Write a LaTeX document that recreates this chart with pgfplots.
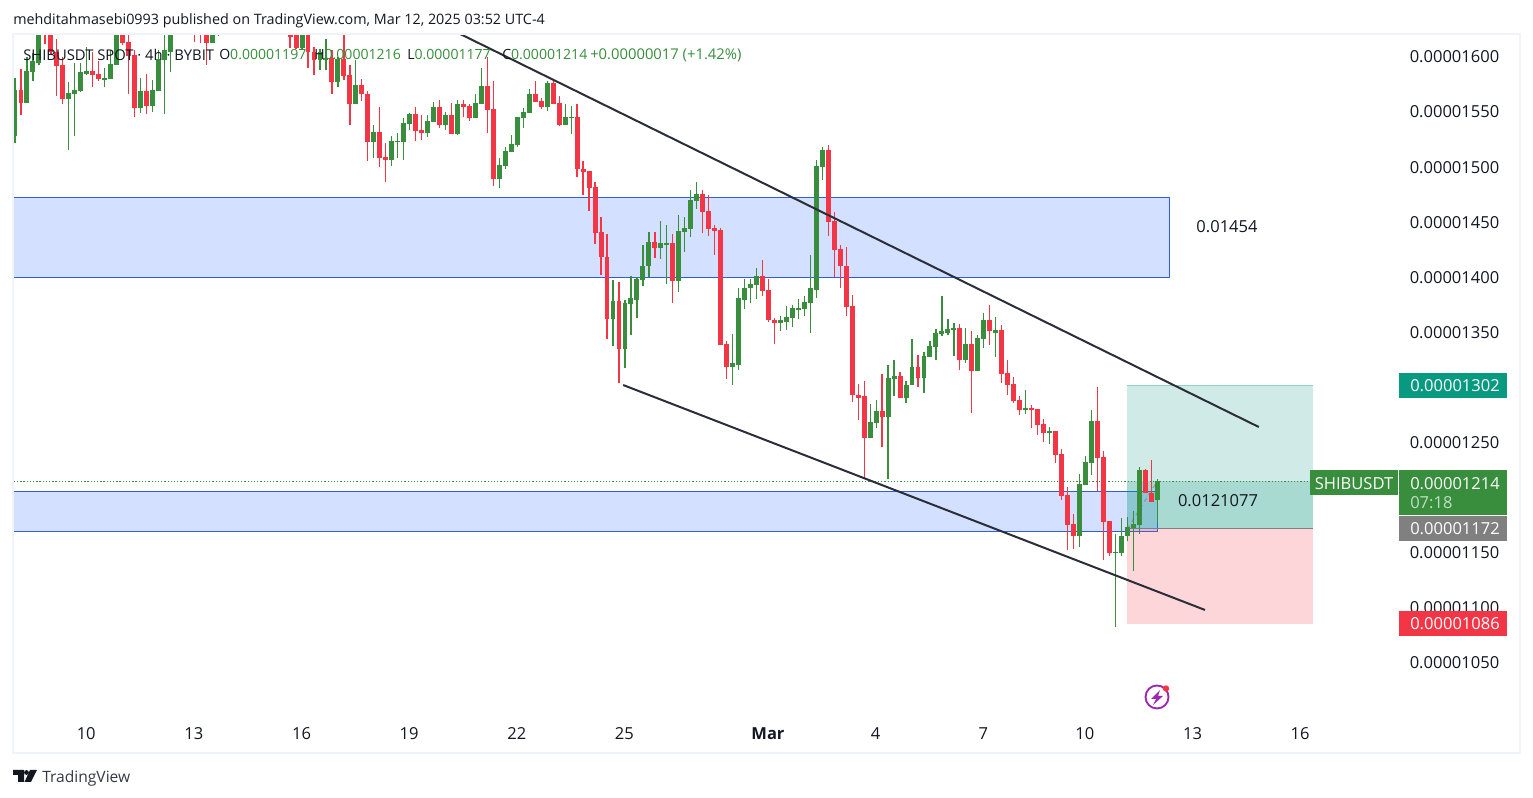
\documentclass[border=0pt]{standalone}
\usepackage{fontspec}
\usepackage{pgfplots}
\usepackage{pgfplotstable}
\pgfplotsset{compat=1.18}
\setmainfont{Open Sans}
\definecolor{upc}{HTML}{388E3C}
\definecolor{dnc}{HTML}{F23645}
\definecolor{zonef}{HTML}{D4E0FF}
\definecolor{zonel}{HTML}{2E5FE0}
\definecolor{teal}{HTML}{089981}
\definecolor{ink}{HTML}{131722}
\definecolor{trend}{HTML}{2A2E39}
\definecolor{frame}{HTML}{F0F3FA}
\definecolor{purp}{HTML}{9C27B0}
% i open high low close, prices in units of 0.00000001
\pgfplotstableread{
i o h l c
0 1527 1580 1521 1569
2 1557 1599 1557 1586
3 1585 1603 1577 1595
4 1594 1633 1592 1628
9 1561 1576 1515 1566
10 1565 1594 1527 1569
11 1568 1594 1567 1585
12 1584 1608 1583 1586
15 1579 1589 1572 1580
16 1579 1605 1579 1593
17 1592 1633 1592 1628
21 1553 1580 1548 1568
23 1555 1578 1549 1569
24 1568 1605 1568 1597
25 1596 1621 1547 1605
26 1604 1628 1585 1624
33 1612 1628 1612 1624
34 1624 1633 1618 1628
48 1607 1633 1605 1628
51 1596 1606 1587 1604
52 1596 1615 1587 1598
54 1576 1599 1572 1597
57 1556 1596 1556 1574
60 1522 1537 1507 1531
63 1506 1527 1500 1523
64 1522 1530 1507 1523
65 1522 1544 1506 1539
66 1538 1548 1533 1547
69 1530 1546 1526 1541
70 1540 1558 1540 1554
72 1537 1549 1533 1546
74 1529 1560 1528 1556
77 1544 1565 1544 1557
78 1556 1589 1556 1573
81 1488 1507 1480 1501
82 1500 1517 1497 1514
83 1513 1528 1513 1520
84 1519 1545 1517 1545
85 1544 1553 1535 1549
86 1548 1570 1548 1565
89 1554 1577 1550 1575
92 1537 1556 1537 1545
93 1544 1555 1529 1545
100 1361 1397 1337 1378
102 1334 1379 1317 1376
103 1375 1400 1347 1380
104 1379 1399 1362 1398
105 1397 1428 1391 1409
106 1409 1440 1399 1431
108 1426 1450 1416 1430
109 1429 1447 1393 1430
111 1396 1456 1386 1441
112 1440 1454 1422 1444
113 1443 1478 1436 1469
114 1468 1486 1461 1475
120 1318 1348 1301 1321
121 1320 1389 1315 1380
122 1379 1398 1370 1389
123 1389 1398 1376 1393
124 1392 1408 1379 1400
128 1358 1364 1350 1360
129 1359 1373 1351 1363
130 1362 1374 1354 1371
131 1370 1379 1361 1371
132 1370 1382 1364 1377
133 1376 1419 1349 1389
134 1388 1506 1380 1500
135 1499 1517 1487 1515
143 1253 1284 1253 1268
144 1267 1288 1262 1278
146 1272 1320 1216 1308
147 1307 1324 1291 1310
149 1290 1305 1285 1301
150 1301 1343 1301 1318
152 1308 1331 1294 1328
153 1327 1341 1327 1337
154 1336 1352 1324 1349
155 1348 1382 1346 1350
156 1349 1361 1347 1352
157 1351 1358 1328 1353
159 1324 1353 1321 1339
161 1314 1347 1314 1344
162 1343 1367 1335 1360
164 1349 1363 1327 1351
169 1279 1297 1275 1281
173 1258 1263 1248 1260
178 1164 1221 1154 1212
179 1211 1237 1211 1232
180 1231 1279 1220 1269
184 1149 1166 1082 1150
185 1149 1181 1146 1164
186 1164 1182 1160 1173
187 1172 1187 1133 1175
188 1174 1227 1166 1224
191 1197 1216 1177 1214
}\upT
\pgfplotstableread{
i o h l c
1 1569 1588 1546 1557
5 1637 1642 1611 1624
6 1624 1628 1601 1604
7 1604 1615 1564 1591
8 1592 1599 1556 1561
13 1586 1604 1572 1583
14 1584 1595 1577 1579
18 1624 1628 1610 1612
19 1613 1621 1565 1600
20 1601 1605 1545 1553
22 1568 1584 1547 1555
30 1633 1642 1613 1628
31 1625 1633 1612 1619
32 1624 1633 1592 1612
46 1628 1633 1607 1617
47 1625 1631 1606 1607
49 1627 1633 1589 1604
50 1604 1608 1583 1596
53 1598 1605 1565 1576
55 1597 1620 1578 1582
56 1583 1592 1537 1556
58 1574 1579 1559 1565
59 1565 1568 1505 1522
61 1531 1554 1499 1507
62 1508 1521 1486 1506
67 1547 1554 1523 1532
68 1533 1546 1524 1530
71 1554 1560 1535 1537
73 1546 1557 1529 1529
75 1556 1560 1545 1554
76 1555 1556 1541 1544
79 1573 1599 1530 1551
80 1552 1577 1482 1488
87 1565 1577 1558 1558
88 1559 1562 1552 1554
90 1575 1577 1556 1556
91 1557 1564 1536 1537
94 1545 1556 1490 1497
95 1497 1505 1474 1495
96 1496 1496 1459 1480
97 1481 1486 1429 1439
98 1440 1454 1401 1418
99 1418 1438 1343 1361
101 1378 1395 1303 1334
107 1431 1440 1417 1426
110 1430 1438 1376 1396
115 1475 1478 1439 1458
116 1459 1474 1437 1443
117 1444 1447 1419 1441
118 1442 1444 1338 1338
119 1339 1341 1307 1318
125 1400 1415 1382 1387
126 1388 1398 1359 1360
127 1360 1362 1339 1358
136 1515 1519 1437 1449
137 1450 1458 1399 1424
138 1425 1428 1389 1409
139 1409 1427 1364 1372
140 1373 1383 1286 1292
141 1292 1302 1270 1290
142 1291 1305 1216 1253
145 1278 1311 1245 1272
148 1310 1313 1290 1290
151 1318 1329 1300 1308
158 1353 1357 1315 1324
160 1339 1350 1276 1314
163 1360 1374 1338 1350
165 1351 1356 1303 1311
166 1312 1324 1292 1301
167 1302 1309 1285 1287
168 1288 1291 1274 1279
170 1281 1283 1262 1279
171 1280 1280 1256 1265
172 1266 1271 1250 1258
174 1260 1260 1231 1238
175 1239 1243 1197 1201
176 1202 1209 1152 1174
177 1175 1184 1153 1164
181 1269 1300 1205 1235
182 1236 1242 1143 1177
183 1178 1178 1146 1149
189 1224 1225 1203 1203
190 1203 1233 1195 1195
}\downT
\begin{document}
\begin{tikzpicture}
\useasboundingbox (0,0) rectangle (1149.75pt,598.5pt);
\fill[white] (0,0) rectangle (1149.75pt,598.5pt);
\begin{axis}[
  at={(9.75pt,60pt)}, anchor=south west,
  scale only axis, width=1038.75pt, height=513pt,
  xmin=-0.334, xmax=231.27, ymin=999.3, ymax=1619.9,
  axis line style={draw=none},
  major tick length=0pt,
  xtick={12,30,48,66,84,102,126,144,162,179,197,215},
  xticklabels={10,13,16,19,22,25,\textbf{Mar},4,7,10,13,16},
  ytick={1050,1100,1150,1250,1350,1400,1450,1500,1550,1600},
  yticklabels={0.00001050,0.00001100,0.00001150,0.00001250,0.00001350,0.00001400,0.00001450,0.00001500,0.00001550,0.00001600},
  ytick pos=right,
  yticklabel pos=right,
  tick label style={font=\fontsize{12.4pt}{14pt}\selectfont, text=ink},
  yticklabel style={anchor=west, inner sep=0pt, xshift=8.6pt, yshift=-0.75pt},
  xticklabel style={anchor=center, inner sep=0pt, yshift=-11.75pt, xshift=-0.4pt},
]
% supply and demand zones
\addplot[fill=zonef, draw=zonel, line width=0.7pt, forget plot] coordinates {(-5,1399)(193,1399)(193,1472)(-5,1472)} -- cycle;
\addplot[fill=zonef, draw=zonel, line width=0.7pt, forget plot] coordinates {(-5,1168.3)(191,1168.3)(191,1204.5)(-5,1204.5)} -- cycle;
% long position
\addplot[fill=teal, fill opacity=0.19, draw=none, forget plot] coordinates {(186,1171)(217.1,1171)(217.1,1301)(186,1301)} -- cycle;
\addplot[fill=teal, fill opacity=0.2, draw=none, forget plot] coordinates {(186,1171)(217.1,1171)(217.1,1214)(186,1214)} -- cycle;
\addplot[fill=dnc, fill opacity=0.2, draw=none, forget plot] coordinates {(186,1084.8)(217.1,1084.8)(217.1,1171)(186,1171)} -- cycle;
\addplot[draw=teal, draw opacity=0.3, line width=0.7pt, forget plot] coordinates {(186,1301)(217.1,1301)};
\addplot[draw=gray, line width=0.7pt, forget plot] coordinates {(186,1171)(217.1,1171)};
\addplot[draw=gray, draw opacity=0.6, dashed, line width=0.9pt, forget plot] coordinates {(186,1171)(191,1214)};
% last price line
\addplot[draw=upc, dash pattern=on 1pt off 1.4pt, line width=0.8pt, forget plot] coordinates {(-5,1213.5)(216.6,1213.5)};
% wicks
\addplot[draw=none, mark=none, forget plot, error bars/.cd, y dir=both, y explicit, error mark=none, error bar style={draw=upc, line width=0.95pt}]
  table[x=i, y expr={(\thisrow{h}+\thisrow{l})/2}, y error plus expr={(\thisrow{h}-\thisrow{l})/2}, y error minus expr={(\thisrow{h}-\thisrow{l})/2}] {\upT};
\addplot[draw=none, mark=none, forget plot, error bars/.cd, y dir=both, y explicit, error mark=none, error bar style={draw=dnc, line width=0.95pt}]
  table[x=i, y expr={(\thisrow{h}+\thisrow{l})/2}, y error plus expr={(\thisrow{h}-\thisrow{l})/2}, y error minus expr={(\thisrow{h}-\thisrow{l})/2}] {\downT};
% bodies
\addplot[draw=none, mark=none, forget plot, error bars/.cd, y dir=both, y explicit, error mark=none, error bar style={draw=upc, line width=3.7pt}]
  table[x=i, y expr={(\thisrow{o}+\thisrow{c})/2}, y error plus expr={(\thisrow{c}-\thisrow{o})/2}, y error minus expr={(\thisrow{c}-\thisrow{o})/2}] {\upT};
\addplot[draw=none, mark=none, forget plot, error bars/.cd, y dir=both, y explicit, error mark=none, error bar style={draw=dnc, line width=3.7pt}]
  table[x=i, y expr={(\thisrow{o}+\thisrow{c})/2}, y error plus expr={(\thisrow{o}-\thisrow{c})/2}, y error minus expr={(\thisrow{o}-\thisrow{c})/2}] {\downT};
% trend lines
\addplot[draw=trend, line width=1.5pt, forget plot] coordinates {(74.1,1620.8)(208,1263.3)};
\addplot[draw=trend, line width=1.5pt, forget plot] coordinates {(101.7,1301.4)(199,1097.3)};
\end{axis}
\begin{scope}[shift={(0pt,598.5pt)}, x=0.75pt, y=-0.75pt]
\def\bigf{\fontsize{12.4pt}{14pt}\selectfont}
\def\midf{\fontsize{11.1pt}{13pt}\selectfont}
\def\ohlcf{\fontsize{10.55pt}{13pt}\selectfont}
% frame
\draw[frame, line width=1.1pt] (13,34) rectangle (1520,753);
% header
\node[anchor=west, inner sep=0pt, text=ink] at (13,20.5) {\fontsize{10.75pt}{12pt}\selectfont mehditahmasebi0993 published on TradingView.com, Mar 12, 2025 03:52 UTC-4};
\node[anchor=west, inner sep=0pt, text=ink] at (23,55) {\midf SHIBUSDT SPOT · 4h · BYBIT};
\foreach \xx/\ll/\vv in {219/O/0.00001197,314/H/0.00001216,407/L/0.00001177,502/C/0.00001214}{
  \node[anchor=west, inner sep=0pt] at (\xx,55) {\ohlcf\textcolor{ink}{\ll}\textcolor{upc}{\vv}};
}
\node[anchor=west, inner sep=0pt, text=upc] at (590,55) {\midf +0.00000017 (+1.42\%)};
% annotations
\node[text=ink, inner sep=0pt] at (1227,227) {\bigf 0.01454};
\node[text=ink, inner sep=0pt] at (1218,500.5) {\bigf 0.0121077};
% price tags
\fill[teal] (1399,373) rectangle (1507,398);
\fill[upc] (1399,470) rectangle (1507,515);
\fill[upc] (1310,470) rectangle (1398,495);
\fill[gray] (1399,516) rectangle (1507,541);
\fill[dnc] (1399,611) rectangle (1507,636);
\node[anchor=west, inner sep=0pt, text=white] at (1410,386) {\bigf 0.00001302};
\node[anchor=west, inner sep=0pt, text=white] at (1410,483.5) {\bigf 0.00001214};
\node[anchor=west, inner sep=0pt, text=white!70!upc] at (1410,503) {\bigf 07:18};
\node[anchor=west, inner sep=0pt, text=white] at (1410,529) {\bigf 0.00001172};
\node[anchor=west, inner sep=0pt, text=white] at (1410,624) {\bigf 0.00001086};
\node[inner sep=0pt, text=white] at (1354,483.5) {\bigf SHIBUSDT};
% lightning icon
\draw[purp, line width=1.4pt] (1157,697) circle (11.5);
\fill[purp] (1160,690) -- (1151,699) -- (1156,699) -- (1153,705) -- (1163,696) -- (1158,696) -- cycle;
\fill[dnc] (1166,688.5) circle (3.2);
% TradingView logo
\fill[ink] (13,770) -- (24,770) -- (24,782) -- (18,782) -- (18,775) -- (13,775) -- cycle;
\fill[ink] (26.5,772.5) circle (2.4);
\fill[ink] (30,770) -- (37,770) -- (31,782) -- (24.5,782) -- cycle;
\node[anchor=west, inner sep=0pt, text=ink!85] at (42,778) {\fontsize{11.7pt}{13pt}\selectfont TradingView};
\end{scope}
\end{tikzpicture}
\end{document}
